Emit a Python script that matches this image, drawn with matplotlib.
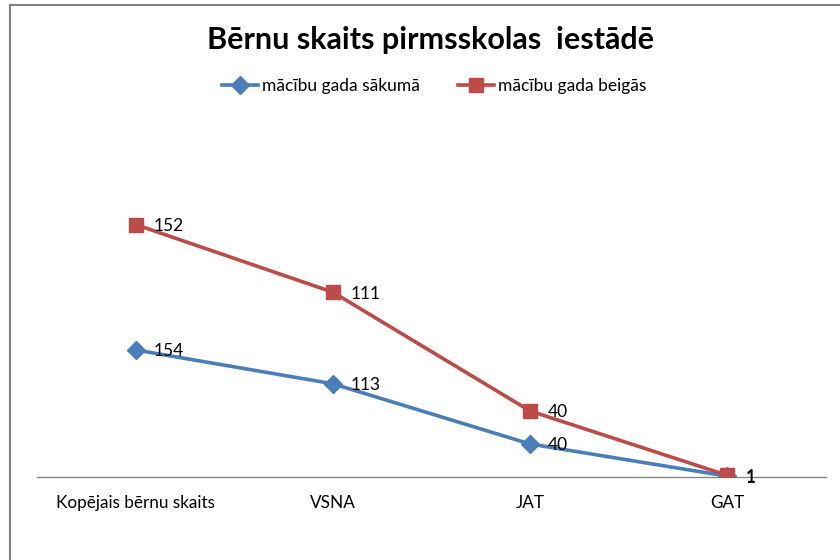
import matplotlib
matplotlib.use("Agg")
import matplotlib.pyplot as plt
from matplotlib.lines import Line2D
import numpy as np

categories = ["Kopējais bērnu skaits", "VSNA", "JAT", "GAT"]
sakuma = [154, 113, 40, 1]
beigas = [152, 111, 40, 1]
series_names = ["mācību gada sākumā", "mācību gada beigās"]

plt.rcParams['font.family'] = ['Lato', 'DejaVu Sans']

fig = plt.figure(figsize=(8.4, 5.6), dpi=100)
ax = fig.add_axes([37/840, 83/560, 789/840, 330/560])

x = np.arange(len(categories))
y1 = np.array(sakuma)
y2 = y1 + np.array(beigas)  # stacked line

blue = "#4A7EBB"
red = "#BE4B48"

ax.plot(x, y1, color=blue, lw=2.6, marker="D", markersize=9, label=series_names[0], zorder=3)
ax.plot(x, y2, color=red, lw=2.6, marker="s", markersize=10, label=series_names[1], zorder=4)

for xi, yi, v in zip(x, y1, sakuma):
    ax.annotate(str(v), (xi, yi), xytext=(13, -1), textcoords="offset points",
                va="center", ha="left", fontsize=12.5, color="black", zorder=5)
for xi, yi, v in zip(x, y2, beigas):
    ax.annotate(str(v), (xi, yi), xytext=(13, -1), textcoords="offset points",
                va="center", ha="left", fontsize=12.5, color="black", zorder=5)

ax.set_xlim(-0.5, len(categories) - 0.5)
ax.set_ylim(0, 400)
ax.set_xticks(x)
ax.set_xticklabels(categories, fontsize=12.3)
ax.tick_params(axis="x", length=0, pad=13)
ax.set_yticks([])
for s in ["top", "right", "left"]:
    ax.spines[s].set_visible(False)
ax.spines["bottom"].set_color("#888888")
ax.spines["bottom"].set_linewidth(1.0)

fig.text(431/840, 1 - 40/560, "Bērnu skaits pirmsskolas  iestādē", ha="center", va="center",
         fontsize=22, fontweight="bold")

leg = fig.legend(loc="center", bbox_to_anchor=(434/840, 1 - 86/560), ncol=2, frameon=False,
                 fontsize=12.5, handlelength=2.1, columnspacing=2.2, handletextpad=0.2)

# chart border (top and left)
fig.add_artist(Line2D([9.5/840, 9.5/840], [0, 1 - 5/560], transform=fig.transFigure, color="#808080", lw=1.5))
fig.add_artist(Line2D([9.5/840, 1], [1 - 5/560, 1 - 5/560], transform=fig.transFigure, color="#808080", lw=1.5))

fig.savefig("out.png", dpi=100)
